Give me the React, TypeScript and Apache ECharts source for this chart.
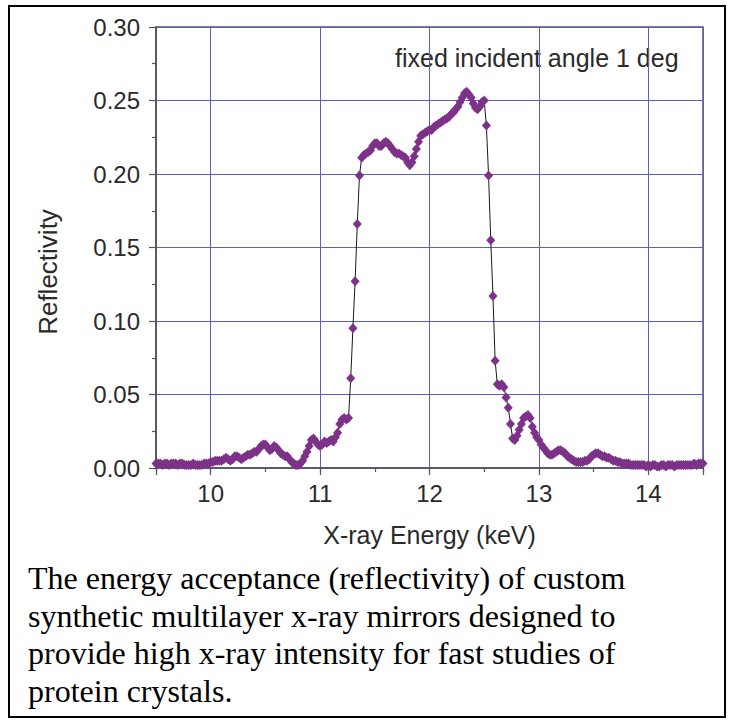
import React, { useEffect, useRef } from 'react';
import * as echarts from 'echarts';

// Energy scan grid (keV)
const ENERGY_START = 9.5;
const ENERGY_STEP = 0.02;

// Reflectivity, one value per 0.02 keV from 9.50 to 14.50
const REFLECTIVITY = [
  0.003, 0.003, 0.003, 0.002, 0.003, 0.003, 0.002, 0.003, 0.003, 0.003,
  0.002, 0.003, 0.003, 0.002, 0.002, 0.002, 0.002, 0.003, 0.002, 0.002,
  0.002, 0.002, 0.003, 0.003, 0.003, 0.004, 0.004, 0.005, 0.005, 0.005,
  0.005, 0.006, 0.007, 0.006, 0.005, 0.006, 0.008, 0.008, 0.007, 0.006,
  0.007, 0.008, 0.009, 0.009, 0.010, 0.011, 0.011, 0.013, 0.015, 0.016,
  0.016, 0.014, 0.012, 0.013, 0.015, 0.014, 0.012, 0.010, 0.009, 0.008,
  0.008, 0.006, 0.004, 0.003, 0.002, 0.002, 0.003, 0.005, 0.008, 0.011,
  0.015, 0.019, 0.020, 0.018, 0.016, 0.015, 0.016, 0.018, 0.017, 0.018,
  0.019, 0.018, 0.021, 0.024, 0.030, 0.033, 0.034, 0.033, 0.034, 0.061,
  0.095, 0.127, 0.166, 0.199, 0.211, 0.213, 0.214, 0.215, 0.216, 0.219,
  0.221, 0.221, 0.219, 0.219, 0.221, 0.222, 0.221, 0.219, 0.217, 0.215,
  0.214, 0.214, 0.213, 0.212, 0.211, 0.208, 0.206, 0.208, 0.212, 0.217,
  0.222, 0.226, 0.227, 0.228, 0.229, 0.230, 0.230, 0.232, 0.233, 0.234,
  0.235, 0.236, 0.237, 0.238, 0.239, 0.241, 0.242, 0.244, 0.246, 0.249,
  0.252, 0.255, 0.256, 0.254, 0.252, 0.248, 0.245, 0.244, 0.246, 0.249,
  0.250, 0.233, 0.199, 0.155, 0.117, 0.073, 0.057, 0.056, 0.057, 0.055,
  0.048, 0.041, 0.030, 0.020, 0.019, 0.022, 0.026, 0.030, 0.034, 0.035,
  0.036, 0.034, 0.028, 0.024, 0.021, 0.019, 0.016, 0.014, 0.012, 0.010,
  0.009, 0.009, 0.010, 0.011, 0.012, 0.012, 0.011, 0.010, 0.008, 0.007,
  0.006, 0.005, 0.004, 0.004, 0.004, 0.004, 0.005, 0.005, 0.006, 0.008,
  0.009, 0.010, 0.010, 0.009, 0.008, 0.008, 0.007, 0.007, 0.006, 0.005,
  0.005, 0.004, 0.004, 0.003, 0.003, 0.003, 0.003, 0.002, 0.002, 0.002,
  0.002, 0.002, 0.002, 0.002, 0.001, 0.002, 0.001, 0.002, 0.002, 0.001,
  0.001, 0.002, 0.002, 0.001, 0.002, 0.002, 0.002, 0.001, 0.002, 0.002,
  0.002, 0.002, 0.002, 0.002, 0.002, 0.002, 0.003, 0.002, 0.003, 0.003,
  0.003,
];

const X_MIN = 9.5;
const X_MAX = 14.5;
const X_TICK_LABELS = [10, 11, 12, 13, 14];
const Y_MIN = 0;
const Y_MAX = 0.3;
const Y_INTERVAL = 0.05;

const X_NAME = 'X-ray Energy (keV)';
const Y_NAME = 'Reflectivity';
const ANNOTATION = 'fixed incident angle 1 deg';
const CAPTION_LINES = [
  'The energy acceptance (reflectivity) of custom',
  'synthetic multilayer x-ray mirrors designed to',
  'provide high x-ray intensity for fast studies of',
  'protein crystals.',
];

const SANS = "'Liberation Sans', Arial, Helvetica, sans-serif";
const SERIF = "'Liberation Serif', 'Times New Roman', Times, serif";
const AXIS_COLOR = '#555555';
const GRID_COLOR = '#5a5fc2';
const TEXT_COLOR = '#2a2a2a';

export default function App() {
  const ref = useRef<HTMLDivElement>(null);

  useEffect(() => {
    if (!ref.current) return;
    const chart = echarts.init(ref.current, null, { renderer: 'svg' });
    const data = REFLECTIVITY.map((v, i) => [
      Number((ENERGY_START + i * ENERGY_STEP).toFixed(2)),
      v,
    ]);

    chart.setOption({
      animation: false,
      backgroundColor: '#ffffff',
      grid: {
        left: 156,
        top: 27,
        right: 28,
        bottom: 253,
        show: true,
        borderColor: AXIS_COLOR,
        borderWidth: 1.5,
        backgroundColor: 'transparent',
      },
      xAxis: [
        {
          type: 'value',
          min: X_MIN,
          max: X_MAX,
          interval: 0.5,
          position: 'bottom',
          axisLine: { show: true, lineStyle: { color: AXIS_COLOR, width: 1.5 } },
          axisTick: { show: true, length: 4, lineStyle: { color: AXIS_COLOR, width: 1.2 } },
          axisLabel: { show: false },
          splitLine: { show: false },
        },
        {
          type: 'value',
          min: X_MIN,
          max: X_MAX,
          splitNumber: 5,
          position: 'bottom',
          axisLine: { show: false },
          axisTick: { show: true, length: 7, lineStyle: { color: AXIS_COLOR, width: 1.2 } },
          axisLabel: {
            formatter: (v: number) => (X_TICK_LABELS.includes(v) ? String(v) : ''),
            margin: 13,
            fontSize: 24,
            color: TEXT_COLOR,
            fontFamily: SANS,
          },
          splitLine: { show: true, lineStyle: { color: GRID_COLOR, width: 1 } },
          name: X_NAME,
          nameLocation: 'middle',
          nameGap: 54,
          nameTextStyle: { fontSize: 25, color: TEXT_COLOR, fontFamily: SANS },
        },
      ],
      yAxis: {
        type: 'value',
        min: Y_MIN,
        max: Y_MAX,
        interval: Y_INTERVAL,
        axisLine: { show: true, lineStyle: { color: AXIS_COLOR, width: 1.5 } },
        axisTick: { show: true, length: 7, lineStyle: { color: AXIS_COLOR, width: 1.2 } },
        minorTick: { show: true, splitNumber: 2, length: 4, lineStyle: { color: AXIS_COLOR, width: 1.2 } },
        axisLabel: {
          formatter: (v: number) => v.toFixed(2),
          margin: 16,
          fontSize: 24,
          color: TEXT_COLOR,
          fontFamily: SANS,
        },
        splitLine: { show: true, lineStyle: { color: GRID_COLOR, width: 1 } },
      },
      series: [
        {
          type: 'line',
          xAxisIndex: 0,
          data,
          symbol: 'diamond',
          symbolSize: [9, 10],
          showSymbol: true,
          showAllSymbol: true,
          itemStyle: { color: '#7d3188' },
          lineStyle: { color: '#1a1a1a', width: 1 },
          z: 5,
        },
      ],
      graphic: [
        {
          type: 'rect',
          shape: { x: 9, y: 6, width: 716, height: 711 },
          style: { fill: 'none', stroke: '#000000', lineWidth: 2 },
          silent: true,
        },
        {
          type: 'text',
          x: 395,
          y: 58,
          style: {
            text: ANNOTATION,
            font: `25px ${SANS}`,
            fill: TEXT_COLOR,
            textAlign: 'left',
            textVerticalAlign: 'middle',
          },
        },
        {
          type: 'text',
          x: 48,
          y: 272,
          rotation: Math.PI / 2,
          style: {
            text: Y_NAME,
            font: `26px ${SANS}`,
            fill: TEXT_COLOR,
            textAlign: 'center',
            textVerticalAlign: 'middle',
          },
        },
        ...CAPTION_LINES.map((line, i) => ({
          type: 'text',
          x: 28,
          y: 578 + i * 37.5,
          style: {
            text: line,
            font: `32px ${SERIF}`,
            fill: '#000000',
            textAlign: 'left',
            textVerticalAlign: 'middle',
          },
        })),
      ],
    });

    return () => {
      chart.dispose();
    };
  }, []);

  return (
    <div
      ref={ref}
      style={{ position: 'absolute', left: 0, top: 0, width: 731, height: 721, background: '#fff' }}
    />
  );
}
